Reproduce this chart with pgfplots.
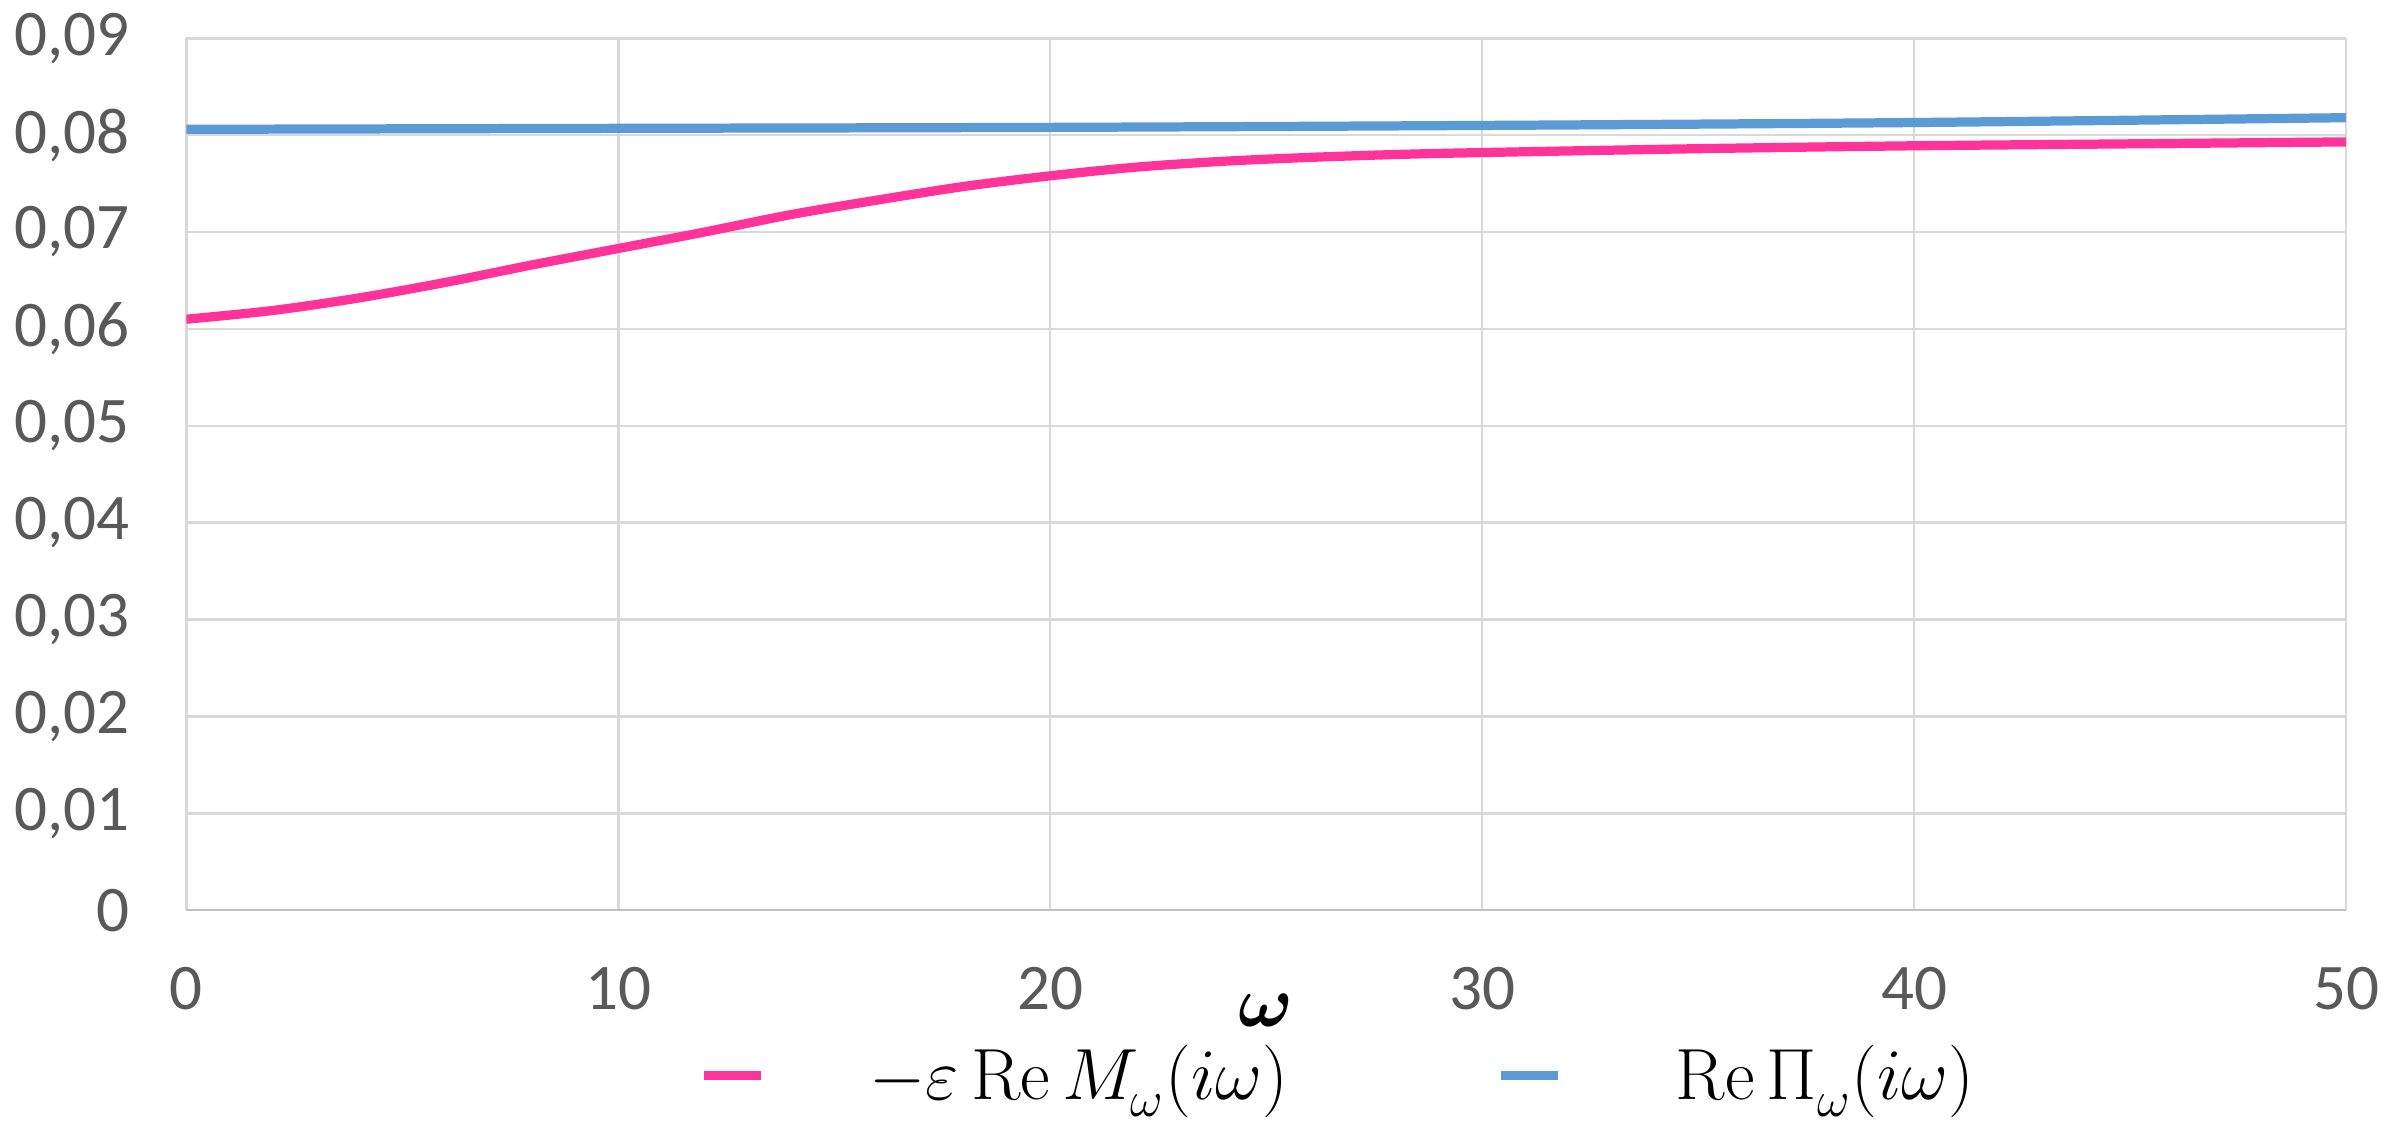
\documentclass[border=0pt]{standalone}
\usepackage[no-math]{fontspec}
\setmainfont{Carlito}
\usepackage{amsmath,bm}
\usepackage{pgfplots}
\pgfplotsset{compat=1.18}
\definecolor{cPink}{HTML}{FF3399}
\definecolor{cBlue}{HTML}{5B9BD5}
\definecolor{cTick}{HTML}{595959}
\definecolor{cGrid}{HTML}{D9D9D9}
\definecolor{cAxis}{HTML}{BFBFBF}
\newcommand{\lsub}{_{\lower0.08em\hbox{$\scriptstyle\omega$}}}

\begin{document}
\begin{tikzpicture}
\begin{axis}[
    scale only axis,
    width=18.08cm, height=7.30cm,
    xmin=0, xmax=50, ymin=0, ymax=0.09,
    xtick={0,10,...,50},
    ytick={0,0.01,...,0.09},
    scaled y ticks=false,
    major tick length=0pt,
    grid=major, grid style={cGrid, line width=0.6pt},
    axis line style={draw=none},
    tick label style={font=\fontsize{15.5}{18}\selectfont, text=cTick},
    yticklabel style={xshift=-0.35cm,
        /pgf/number format/fixed, /pgf/number format/precision=2,
        /pgf/number format/use comma},
    xticklabel style={yshift=-0.35cm},
    /pgf/number format/assume math mode=true,
    xlabel={\fontsize{19}{21}\selectfont$\bm{\omega}$},
    xlabel style={at={(axis description cs:0.5,0)}, anchor=center, yshift=-0.84cm},
    legend columns=2,
    legend style={at={(0.237,-0.19)}, anchor=west, draw=none, fill=none,
        inner sep=0pt, font=\fontsize{17.5}{21}\selectfont,
        /tikz/every odd column/.append style={column sep=0.8cm},
        /tikz/every even column/.append style={column sep=1.67cm}},
    legend image code/.code={\draw[#1, line width=2.2pt] (0cm,0cm) -- (0.48cm,0cm);},
    every axis plot/.append style={line width=2.2pt},
]
\addplot[color=cPink, smooth] coordinates {
    (0,0.0610) (2,0.0619) (4,0.0632) (6,0.0648) (8,0.0666) (10,0.0683)
    (12,0.0700) (14,0.0718) (16,0.0733) (18,0.0747) (20,0.0758)
    (22,0.0767) (24,0.0773) (26,0.0777) (28,0.0780) (30,0.0782)
    (35,0.0786) (40,0.0789) (45,0.0791) (50,0.0793)};
\addlegendentry{$-\varepsilon\,\mathrm{Re}\,M\lsub(i\omega)$}
\addplot[color=cBlue, smooth] coordinates {
    (0,0.0806) (10,0.0807) (20,0.0808) (30,0.0810) (40,0.0813) (50,0.0818)};
\addlegendentry{\hspace{0.08cm}$\mathrm{Re}\,\Pi\lsub(i\omega)$}
\draw[cAxis, line width=0.8pt] (rel axis cs:0,0) -- (rel axis cs:1,0);
\end{axis}
\pgfresetboundingbox
\path[use as bounding box] (-1.56,-1.825) rectangle (18.44,7.62);
\end{tikzpicture}
\end{document}
